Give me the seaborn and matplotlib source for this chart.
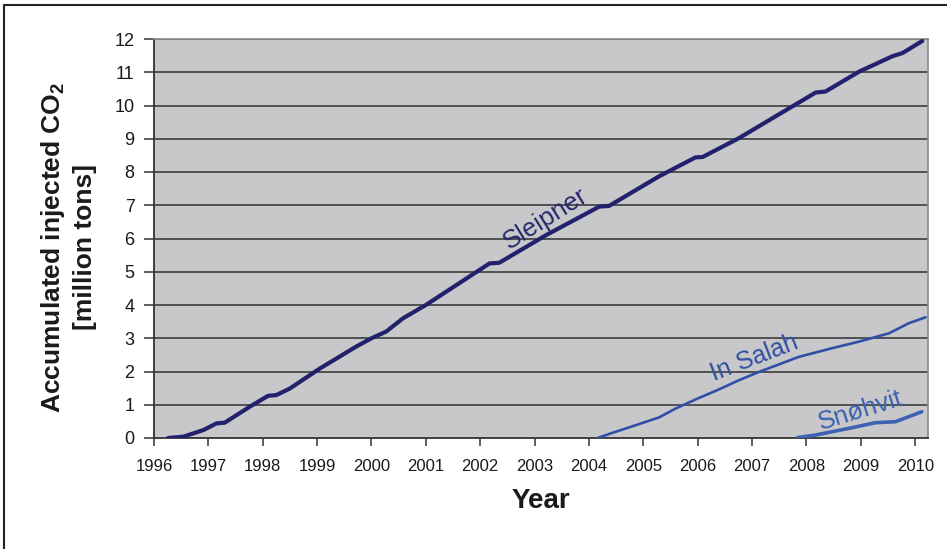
import matplotlib
matplotlib.use("Agg")
import matplotlib.pyplot as plt
import seaborn as sns
import pandas as pd
from matplotlib.lines import Line2D

# ---- data ----
sleipner_year = [1996.26, 1996.54, 1996.91, 1997.15, 1997.30, 1997.76, 1998.10, 1998.25,
                 1998.50, 1999.05, 1999.72, 2000.00, 2000.27, 2000.58, 2001.00, 2002.17,
                 2002.35, 2003.21, 2004.19, 2004.37, 2005.29, 2005.96, 2006.09, 2006.76,
                 2007.50, 2008.17, 2008.35, 2008.97, 2009.58, 2009.77, 2010.13]
sleipner_value = [0.00, 0.04, 0.24, 0.44, 0.46, 0.94, 1.27, 1.29,
                  1.49, 2.09, 2.75, 3.00, 3.20, 3.60, 4.00, 5.25,
                  5.27, 6.10, 6.96, 6.98, 7.87, 8.44, 8.45, 9.02,
                  9.74, 10.39, 10.42, 11.02, 11.48, 11.58, 11.94]

insalah_year = [2004.16, 2004.44, 2004.87, 2005.29, 2005.60, 2005.96, 2006.39, 2006.76,
                2006.94, 2007.13, 2007.86, 2008.47, 2008.97, 2009.52, 2009.88, 2010.19]
insalah_value = [0.00, 0.16, 0.39, 0.62, 0.89, 1.16, 1.46, 1.74,
                 1.86, 1.99, 2.44, 2.70, 2.90, 3.15, 3.45, 3.63]

snohvit_year = [2007.83, 2008.17, 2008.78, 2009.27, 2009.64, 2010.12]
snohvit_value = [0.01, 0.09, 0.29, 0.46, 0.49, 0.79]

x_ticks = list(range(1996, 2011))
y_ticks = list(range(0, 13))

sns.set_style("white")
plt.rcParams['font.family'] = ['Liberation Sans', 'DejaVu Sans']
plt.rcParams['mathtext.fontset'] = 'custom'
plt.rcParams['mathtext.rm'] = 'Liberation Sans'
plt.rcParams['mathtext.bf'] = 'Liberation Sans:bold'

fig = plt.figure(figsize=(9.47, 5.49), dpi=100)
ax = fig.add_axes([154 / 947, 1 - 438 / 549, (927.7 - 154) / 947, (438 - 39) / 549])
ax.set_facecolor("#C8C8CA")

df_s = pd.DataFrame({"Year": sleipner_year, "Value": sleipner_value})
df_i = pd.DataFrame({"Year": insalah_year, "Value": insalah_value})
df_n = pd.DataFrame({"Year": snohvit_year, "Value": snohvit_value})

c_sl = "#21216E"
c_is = "#3050A8"
c_sn = "#3D62B4"

sns.lineplot(data=df_s, x="Year", y="Value", ax=ax, color=c_sl, linewidth=3.0,
             sort=False, estimator=None, zorder=5)
sns.lineplot(data=df_i, x="Year", y="Value", ax=ax, color=c_is, linewidth=1.9,
             sort=False, estimator=None, zorder=5)
sns.lineplot(data=df_n, x="Year", y="Value", ax=ax, color=c_sn, linewidth=2.6,
             sort=False, estimator=None, zorder=5)

ax.set_xlim(1996, 2010.23)
ax.set_ylim(0, 12)
ax.set_xticks(x_ticks)
ax.set_yticks(y_ticks)
ax.set_xticklabels([str(v) for v in x_ticks])
ax.set_yticklabels([str(v) for v in y_ticks])

for yv in y_ticks[1:]:
    ax.axhline(yv, color="#3C3C3C", linewidth=1.2, zorder=1)

for s in ["left", "bottom"]:
    ax.spines[s].set_color("#333333")
    ax.spines[s].set_linewidth(1.3)
for s in ["right", "top"]:
    ax.spines[s].set_color("#8A8A8A")
    ax.spines[s].set_linewidth(1.2)

ax.tick_params(axis="x", direction="out", length=6, width=1.1, color="#333333",
               labelsize=12, pad=9, labelcolor="#1A1A1A", bottom=True)
ax.tick_params(axis="y", direction="out", length=7, width=1.1, color="#333333",
               labelsize=13, pad=7, labelcolor="#1A1A1A", left=True)

ax.set_xlabel("Year", fontsize=20, fontweight="bold", color="#1A1A1A")
ax.xaxis.set_label_coords(0.5, -0.125)
ax.set_ylabel("Accumulated injected CO$_\\mathregular{2}$\n[million tons]",
              fontsize=19, fontweight="bold", color="#1A1A1A", linespacing=1.3)
ax.yaxis.set_label_coords(-0.074, 0.478)

ax.text(2003.2, 6.6, "Sleipner", rotation=32, color="#26266E", fontsize=18.5,
        ha="center", va="center", rotation_mode="anchor", zorder=6)
ax.text(2007.04, 2.42, "In Salah", rotation=21, color="#3050A0", fontsize=18,
        ha="center", va="center", rotation_mode="anchor", zorder=6)
ax.text(2009.0, 0.82, "Snøhvit", rotation=17, color="#3A62B0", fontsize=18.5,
        ha="center", va="center", rotation_mode="anchor", zorder=6)

# outer frame
fig.add_artist(Line2D([4 / 947, 4 / 947], [0, 1 - 5 / 549], transform=fig.transFigure,
                      color="#222222", linewidth=1.5))
fig.add_artist(Line2D([4 / 947, 1], [1 - 5 / 549, 1 - 5 / 549], transform=fig.transFigure,
                      color="#222222", linewidth=1.5))

fig.savefig("out.png", dpi=100)
